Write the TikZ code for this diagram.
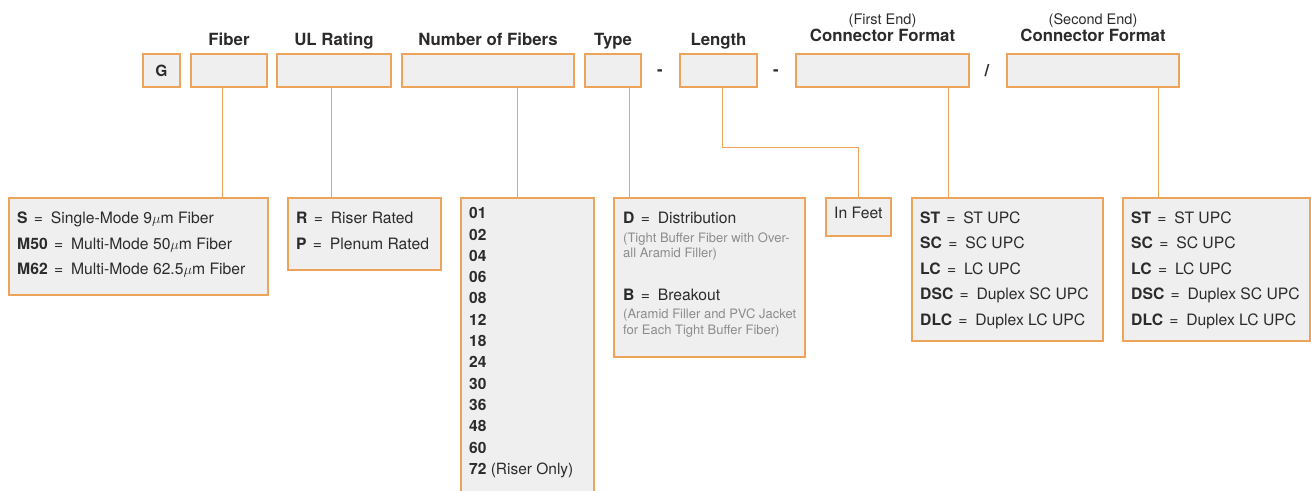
\documentclass[tikz,border=0pt]{standalone}
\usepackage{fontspec}
\setmainfont{TeX Gyre Heros}
\definecolor{codeorange}{HTML}{EDA35A}
\definecolor{codefill}{HTML}{EFEFEF}
\definecolor{codetext}{HTML}{2B2B2B}
\definecolor{codenote}{HTML}{8C8C8C}
\newcommand{\keyeq}{\hspace{0.4em}=\hspace{0.5em}}
\tikzset{
  slot/.style={draw=codeorange, fill=codefill, line width=1.6pt, minimum height=33pt, inner sep=0pt, text=codetext},
  keybox/.style={draw=codeorange, fill=codefill, line width=1.6pt, anchor=north west, inner sep=0pt},
  heading/.style={font=\fontsize{16.8}{18}\selectfont\bfseries, text=codetext, anchor=base, inner sep=0pt},
  subheading/.style={font=\fontsize{14.5}{17}\selectfont, text=codetext, anchor=base, inner sep=0pt},
  keytext/.style={font=\fontsize{15.7}{25.5}\selectfont, text=codetext, align=left, anchor=north west, inner sep=0pt},
  numtext/.style={font=\fontsize{15.5}{21.3}\selectfont, text=codetext, align=left, anchor=north west, inner sep=0pt},
  notetext/.style={font=\fontsize{13}{15.5}\selectfont, text=codenote, align=left, anchor=north west, inner sep=0pt},
  link/.style={draw=codeorange, line width=1pt},
}
\begin{document}
\begin{tikzpicture}[x=1pt, y=-1pt]
  \useasboundingbox (0,0) rectangle (1311,490);
  % part number slots
  \node[slot, minimum width=37pt, font=\fontsize{15.5}{18}\selectfont\bfseries] (g) at (161.5,70.5) {G};
  \node[slot, minimum width=76pt] (fiber) at (229,70.5) {};
  \node[slot, minimum width=114pt] (ul) at (334,70.5) {};
  \node[slot, minimum width=172pt] (num) at (488,70.5) {};
  \node[slot, minimum width=56pt] (type) at (613,70.5) {};
  \node[slot, minimum width=77pt] (len) at (718.5,70.5) {};
  \node[slot, minimum width=173pt] (firstend) at (882.5,70.5) {};
  \node[slot, minimum width=172pt] (secondend) at (1093,70.5) {};
  \node[heading] (dashone) at (660,75) {-};
  \node[heading] (dashtwo) at (776,75) {-};
  \node[heading] (slash) at (987,76) {/};
  % headings
  \node[heading] (fiberhead) at (229,45) {Fiber};
  \node[heading] (ulhead) at (334,45) {UL Rating};
  \node[heading] (numhead) at (488,45) {Number of Fibers};
  \node[heading] (typehead) at (613,45) {Type};
  \node[heading] (lenhead) at (718.5,45) {Length};
  \node[subheading] (firstnote) at (882.5,24) {(First End)};
  \node[heading] (firsthead) at (882.5,41) {Connector Format};
  \node[subheading] (secondnote) at (1093,24) {(Second End)};
  \node[heading] (secondhead) at (1093,41) {Connector Format};
  % keys
  \node[keybox, minimum width=259pt, minimum height=97pt] (fiberkey) at (8,197) {};
  \node[keytext] (fibertext) at (17,212)
    {\textbf{S}\keyeq Single-Mode 9$\mu$m Fiber\\
     \textbf{M50}\keyeq Multi-Mode 50$\mu$m Fiber\\
     \textbf{M62}\keyeq Multi-Mode 62.5$\mu$m Fiber};
  \node[keybox, minimum width=153pt, minimum height=72pt] (ulkey) at (287,197) {};
  \node[keytext] (ultext) at (296,212)
    {\textbf{R}\keyeq Riser Rated\\
     \textbf{P}\keyeq Plenum Rated};
  \node[keybox, minimum width=133pt, minimum height=300pt] (numkey) at (460,197) {};
  \node[numtext] (numlist) at (469,207.3)
    {\textbf{01}\\ \textbf{02}\\ \textbf{04}\\ \textbf{06}\\ \textbf{08}\\
     \textbf{12}\\ \textbf{18}\\ \textbf{24}\\ \textbf{30}\\ \textbf{36}\\
     \textbf{48}\\ \textbf{60}\\ \textbf{72} (Riser Only)};
  \node[keybox, minimum width=191pt, minimum height=159pt] (typekey) at (613,197) {};
  \node[keytext] (typed) at (623,212) {\textbf{D}\keyeq Distribution};
  \node[notetext] (typednote) at (623,232.5)
    {(Tight Buffer Fiber with Over-\\all Aramid Filler)};
  \node[keytext] (typeb) at (623,289.3) {\textbf{B}\keyeq Breakout};
  \node[notetext] (typebnote) at (623,309)
    {(Aramid Filler and PVC Jacket\\for Each Tight Buffer Fiber)};
  \node[keybox, minimum width=65pt, minimum height=38pt] (lenkey) at (825,197) {};
  \node[keytext] (lentext) at (834,207.3) {In Feet};
  \node[keybox, minimum width=191pt, minimum height=143pt] (firstkey) at (911,197) {};
  \node[keytext] (firsttext) at (920,211.3)
    {\textbf{ST}\keyeq ST UPC\\ \textbf{SC}\keyeq SC UPC\\ \textbf{LC}\keyeq LC UPC\\
     \textbf{DSC}\keyeq Duplex SC UPC\\ \textbf{DLC}\keyeq Duplex LC UPC};
  \node[keybox, minimum width=187pt, minimum height=143pt] (secondkey) at (1122,197) {};
  \node[keytext] (secondtext) at (1131,211.3)
    {\textbf{ST}\keyeq ST UPC\\ \textbf{SC}\keyeq SC UPC\\ \textbf{LC}\keyeq LC UPC\\
     \textbf{DSC}\keyeq Duplex SC UPC\\ \textbf{DLC}\keyeq Duplex LC UPC};
  % links
  \coordinate (lenbend) at (722,147);
  \draw[link] ([xshift=-7pt]fiber.south) -- ([xshift=-7pt]fiber.south |- fiberkey.north);
  \draw[link] ([xshift=-3pt]ul.south) -- ([xshift=-3pt]ul.south |- ulkey.north);
  \draw[link] ([xshift=29pt]num.south) -- ([xshift=29pt]num.south |- numkey.north);
  \draw[link] ([xshift=16pt]type.south) -- ([xshift=16pt]type.south |- typekey.north);
  \draw[link] ([xshift=3.5pt]len.south) -- (lenbend) -| (lenkey.north);
  \draw[link] ([xshift=65.5pt]firstend.south) -- ([xshift=65.5pt]firstend.south |- firstkey.north);
  \draw[link] ([xshift=65pt]secondend.south) -- ([xshift=65pt]secondend.south |- secondkey.north);
\end{tikzpicture}
\end{document}
